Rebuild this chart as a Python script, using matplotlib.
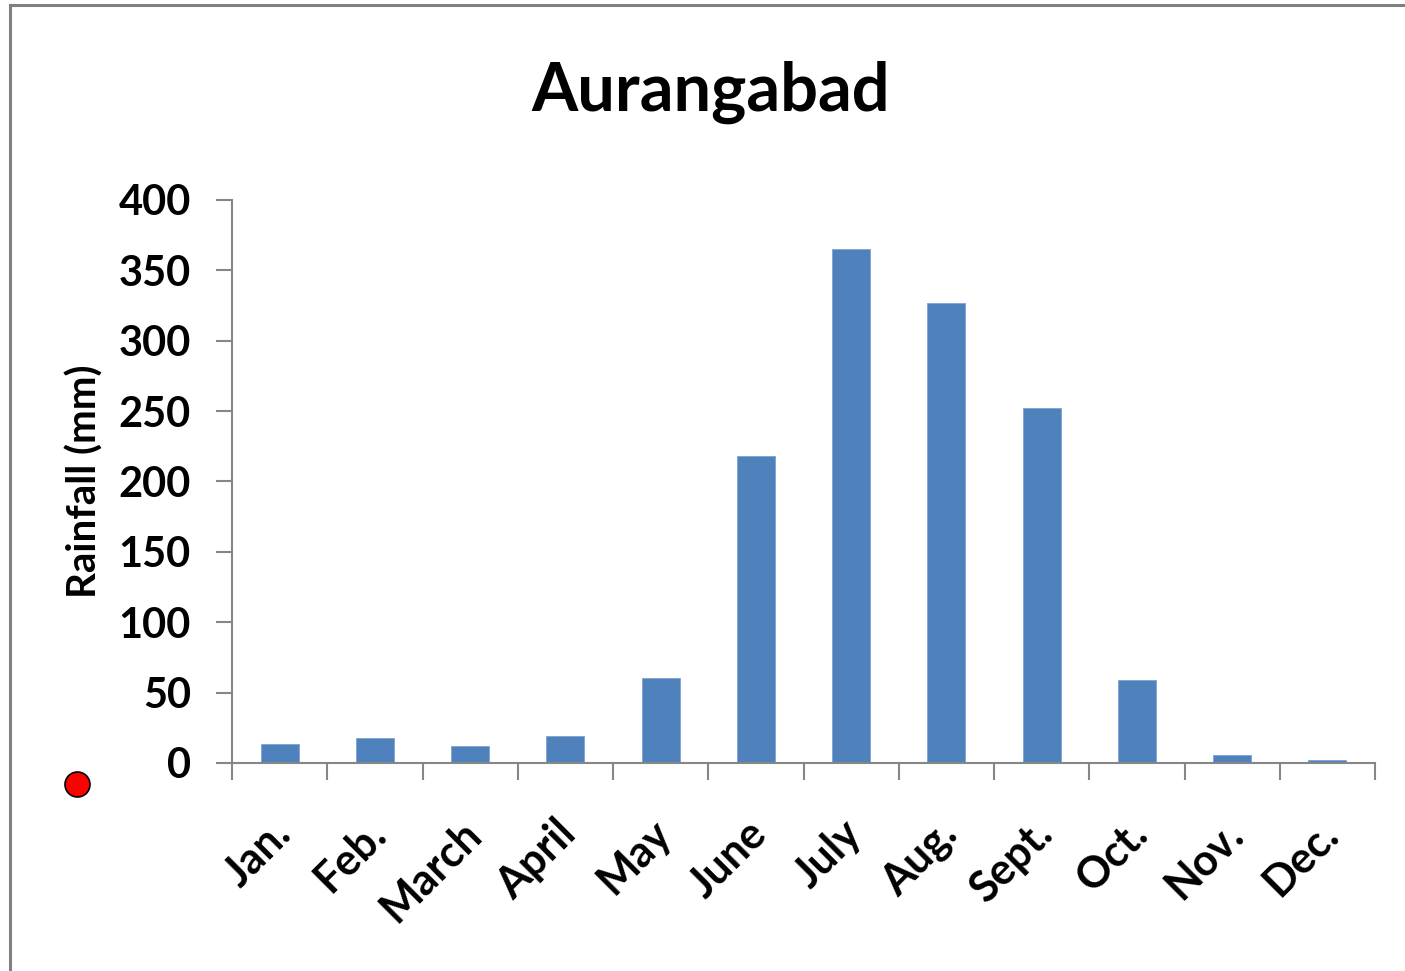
import matplotlib
matplotlib.use('Agg')
import matplotlib.pyplot as plt
from matplotlib.lines import Line2D
from matplotlib.transforms import ScaledTranslation
import numpy as np

months = ['Jan.', 'Feb.', 'March', 'April', 'May', 'June', 'July',
          'Aug.', 'Sept.', 'Oct.', 'Nov.', 'Dec.']
rainfall = [13.5, 18, 12, 19, 60.5, 218, 365, 327, 252, 59, 5.5, 2]
yticks = [0, 50, 100, 150, 200, 250, 300, 350, 400]

plt.rcParams['font.family'] = ['Lato', 'DejaVu Sans']
plt.rcParams['font.weight'] = 'bold'

W, H = 1405, 971
fig = plt.figure(figsize=(W / 100, H / 100), dpi=100)
ax = fig.add_axes([232 / W, 1 - 763 / H, (1375 - 232) / W, (763 - 200) / H])

x = np.arange(len(months))
ax.bar(x, rainfall, width=0.4, color='#4F81BD', edgecolor='#7FA3D3', linewidth=0.6)

ax.set_xlim(-0.5, len(months) - 0.5)
ax.set_ylim(0, 400)
ax.set_yticks(yticks)
ax.set_yticklabels([str(v) for v in yticks], fontsize=30, fontweight='bold')

ax.set_xticks(x)
ax.set_xticklabels(months, fontsize=31, fontweight='bold', rotation=45,
                   ha='right', rotation_mode='anchor')
ax.set_xticks(np.arange(-0.5, len(months), 1), minor=True)
ax.tick_params(axis='x', which='major', length=0, pad=36)
ax.tick_params(axis='x', which='minor', length=12, width=1.5, color='#868686')
ax.tick_params(axis='y', length=11.5, width=1.5, color='#868686', pad=18)

# nudge labels a little left like the original (after tick_params, which resets transforms)
shift = ScaledTranslation(-10 / 100, 0, fig.dpi_scale_trans)
for lbl in ax.get_xticklabels():
    lbl.set_transform(lbl.get_transform() + shift)

for s in ['top', 'right']:
    ax.spines[s].set_visible(False)
for s in ['left', 'bottom']:
    ax.spines[s].set_color('#868686')
    ax.spines[s].set_linewidth(1.5)

ax.set_ylabel('Rainfall (mm)', fontsize=29, fontweight='bold')
ax.yaxis.set_label_coords(-0.112, 0.5)

fig.text(711 / W, 1 - 92 / H, 'Aurangabad', fontsize=48, fontweight='bold',
         ha='center', va='center')

# outer frame (left and top edges visible)
fig.add_artist(Line2D([10 / W, 10 / W], [0, 1 - 5 / H], transform=fig.transFigure,
                      color='#808080', linewidth=2.2))
fig.add_artist(Line2D([10 / W, 1], [1 - 5 / H, 1 - 5 / H], transform=fig.transFigure,
                      color='#808080', linewidth=2.2))

# red marker dot
fig.add_artist(Line2D([77 / W], [1 - 784 / H], transform=fig.transFigure,
                      marker='o', markersize=18, markerfacecolor='red',
                      markeredgecolor='black', markeredgewidth=1.2, linestyle='none'))

fig.savefig('out.png', dpi=100)
